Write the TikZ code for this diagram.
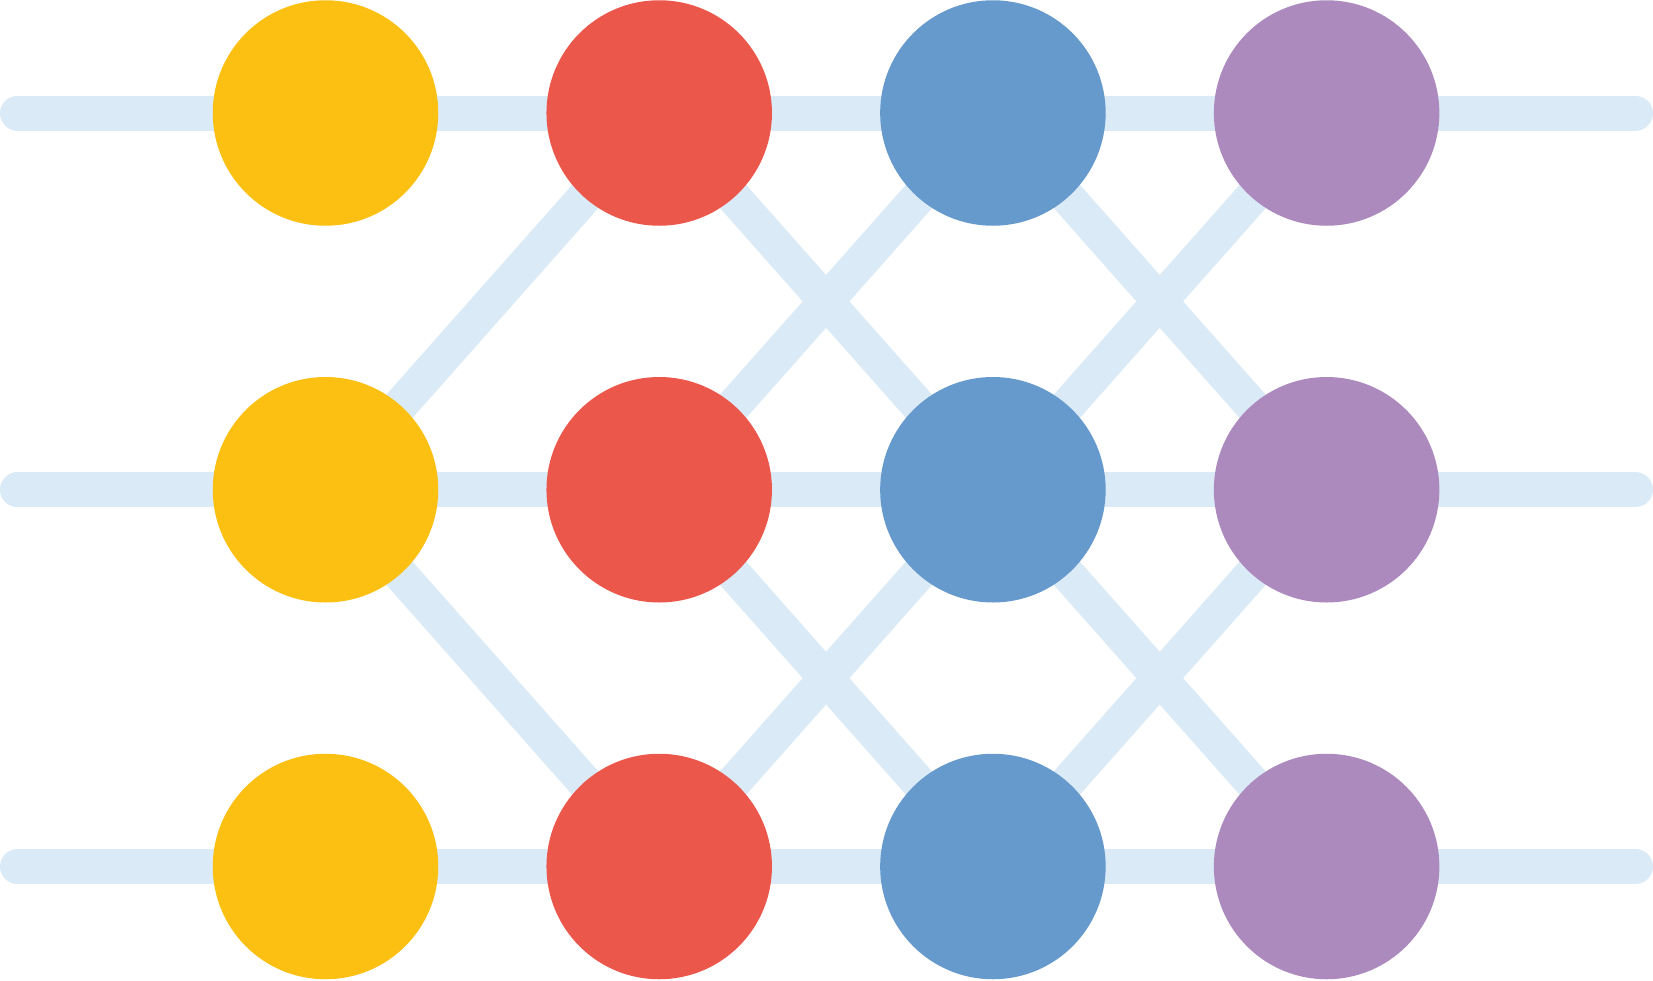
\documentclass[tikz,border=0pt]{standalone}
\usetikzlibrary{positioning,backgrounds}
\tikzset{>=latex}
\definecolor{wireblue}{HTML}{DAEAF6}
\definecolor{gold}{HTML}{FBC012}
\definecolor{coral}{HTML}{EC574C}
\definecolor{steel}{HTML}{6699CC}
\definecolor{lilac}{HTML}{AD8ABE}

\begin{document}
\begin{tikzpicture}[unit/.style={circle, inner sep=0pt, minimum size=4.51cm}, wire/.style={draw=wireblue, line width=0.7cm, line cap=round}, link/.style={draw=wireblue, line width=0.7cm}, node distance=7.535cm and 6.674cm, on grid]
		\useasboundingbox (0,0) rectangle (33.06,-19.6);
		% input column
		\node[unit, fill=gold] (a1) at (6.51,-2.26) {};
		\node[unit, fill=gold] (a2) [below=of a1] {};
		\node[unit, fill=gold] (a3) [below=of a2] {};
		% hidden columns
		\node[unit, fill=coral] (b1) [right=of a1] {};
		\node[unit, fill=coral] (b2) [below=of b1] {};
		\node[unit, fill=coral] (b3) [below=of b2] {};
		\node[unit, fill=steel] (c1) [right=of b1] {};
		\node[unit, fill=steel] (c2) [below=of c1] {};
		\node[unit, fill=steel] (c3) [below=of c2] {};
		% output column
		\node[unit, fill=lilac] (d1) [right=of c1] {};
		\node[unit, fill=lilac] (d2) [below=of d1] {};
		\node[unit, fill=lilac] (d3) [below=of d2] {};
		% wire ends
		\coordinate (l1) at (0.35,-2.26);
		\coordinate (l2) at (0.35,-9.795);
		\coordinate (l3) at (0.35,-17.33);
		\coordinate (r1) at (32.71,-2.26);
		\coordinate (r2) at (32.71,-9.795);
		\coordinate (r3) at (32.71,-17.33);
		\begin{scope}[on background layer]
			\path[wire] (l1) -- (r1) (l2) -- (r2) (l3) -- (r3);
			\path[link]
				(a2.center) -- (b1.center) (a2.center) -- (b3.center)
				(b1.center) -- (c2.center) (b2.center) -- (c1.center)
				(b2.center) -- (c3.center) (b3.center) -- (c2.center)
				(c1.center) -- (d2.center) (c2.center) -- (d1.center)
				(c2.center) -- (d3.center) (c3.center) -- (d2.center);
		\end{scope}
	\end{tikzpicture}
\end{document}
